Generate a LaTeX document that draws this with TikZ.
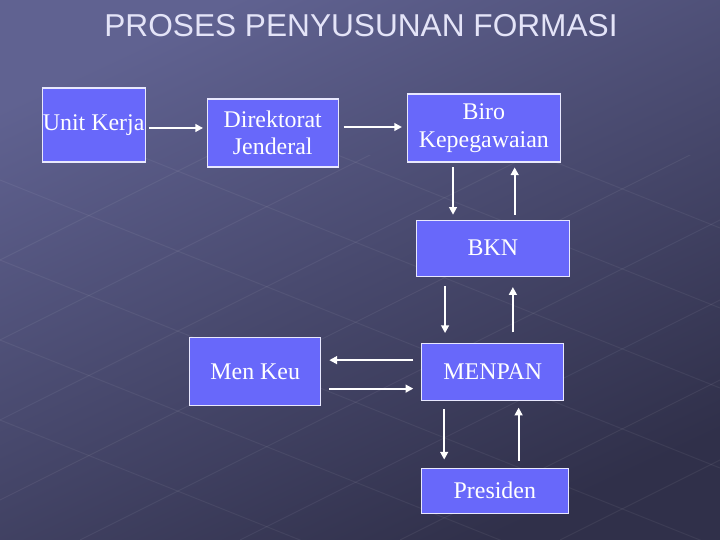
\documentclass[tikz,border=0pt]{standalone}
\usepackage{fontspec}
\setmainfont{Liberation Serif}
\newfontfamily\titlefont{Liberation Sans}
\usetikzlibrary{positioning,calc,arrows.meta}
\definecolor{bgtop}{RGB}{96,98,145}
\definecolor{bgbot}{RGB}{48,48,74}
\definecolor{boxblue}{RGB}{104,104,250}
\definecolor{titlegray}{RGB}{228,228,248}
\tikzset{
  >={Triangle[length=5.5pt,width=5.5pt]},
  rectnode/.style args={#1,#2}{
  draw=white!85!boxblue,
  line width=0.8pt,
  fill=boxblue,
  text=white,
  inner sep=0pt,
  align=center,
  font=\fontsize{17}{19.5}\selectfont,
  minimum width=#1 cm,
  minimum height=#2 cm,
  },
  arr/.style={->,draw=white,line width=1.4pt,shorten >=#1,shorten <=#1},
  arr/.default=0.12cm,
  floorline/.style={white,opacity=0.06,line width=0.7pt}
}
\begin{document}
\begin{tikzpicture}

  \shade [top color=bgtop,bottom color=bgbot,shading angle=25] (0,0) rectangle (18,13.5);
  \useasboundingbox (0,0) rectangle (18,13.5);
  \begin{scope}
    \clip (0,0) rectangle (18,9.6);
    \draw [floorline] (0,3)--(18,-4.2) (0,5)--(18,-2.2) (0,7)--(18,-0.2) (0,9)--(18,1.8)
      (0,11)--(18,3.8) (0,13)--(18,5.8) (0,15)--(18,7.8) (0,17)--(18,9.8);
    \draw [floorline] (-14,0)--(6,10) (-10,0)--(10,10) (-6,0)--(14,10) (-2,0)--(18,10)
      (2,0)--(22,10) (6,0)--(26,10) (10,0)--(30,10) (14,0)--(34,10);
  \end{scope}

  \node [anchor=base,text=titlegray,font=\titlefont\fontsize{22.5}{26}\selectfont] (title) at (9.025,12.575) {PROSES PENYUSUNAN FORMASI};

  \node [rectnode={2.575,1.85}] (uk) at (2.34,10.375) {Unit Kerja};
  \node [rectnode={3.275,1.7}] (dj) [right=1.525cm of uk,yshift=-0.2cm] {Direktorat\\Jenderal};
  \node [rectnode={3.825,1.7}] (biro) [right=1.7cm of dj,yshift=0.125cm] {Biro\\Kepegawaian};
  \node [rectnode={3.825,1.4}] (bkn) [below=1.425cm of biro,xshift=0.225cm] {BKN};
  \node [rectnode={3.55,1.425}] (menpan) [below=1.65cm of bkn] {MENPAN};
  \node [rectnode={3.675,1.125}] (pres) [below=1.67cm of menpan,xshift=0.05cm] {Presiden};
  \node [rectnode={3.275,1.7}] (menkeu) [left=2.5cm of menpan] {Men Keu};

  \path (uk.east) ++(0,-0.075) coordinate (uk-e);
  \path (dj.east) ++(0,0.15) coordinate (dj-e);
  \draw [arr=0.09cm] (uk-e) -- (uk-e -| dj.west);
  \draw [arr] (dj-e) -- (dj-e -| biro.west);

  \coordinate (biro-d) at ($(biro.south west)!0.3!(biro.south east)$);
  \coordinate (biro-u) at ($(biro.south west)!0.7!(biro.south east)$);
  \draw [arr] (biro-d) -- (biro-d |- bkn.north);
  \draw [arr] (biro-u |- bkn.north) -- (biro-u);

  \coordinate (bkn-d) at ($(bkn.south west)!0.19!(bkn.south east)$);
  \coordinate (bkn-u) at ($(bkn.south west)!0.63!(bkn.south east)$);
  \draw [arr=0.24cm] (bkn-d) -- (bkn-d |- menpan.north);
  \draw [arr=0.26cm] (bkn-u |- menpan.north) -- (bkn-u);

  \coordinate (mp-l) at ($(menpan.north west)!0.3!(menpan.south west)$);
  \coordinate (mp-r) at ($(menpan.north west)!0.79!(menpan.south west)$);
  \draw [arr=0.2cm] (mp-l) -- (mp-l -| menkeu.east);
  \draw [arr=0.2cm] (mp-r -| menkeu.east) -- (mp-r);

  \coordinate (mp-d) at ($(menpan.south west)!0.16!(menpan.south east)$);
  \coordinate (mp-u) at ($(menpan.south west)!0.68!(menpan.south east)$);
  \draw [arr=0.2cm] (mp-d) -- (mp-d |- pres.north);
  \draw [arr=0.17cm] (mp-u |- pres.north) -- (mp-u);
\end{tikzpicture}
\end{document}
